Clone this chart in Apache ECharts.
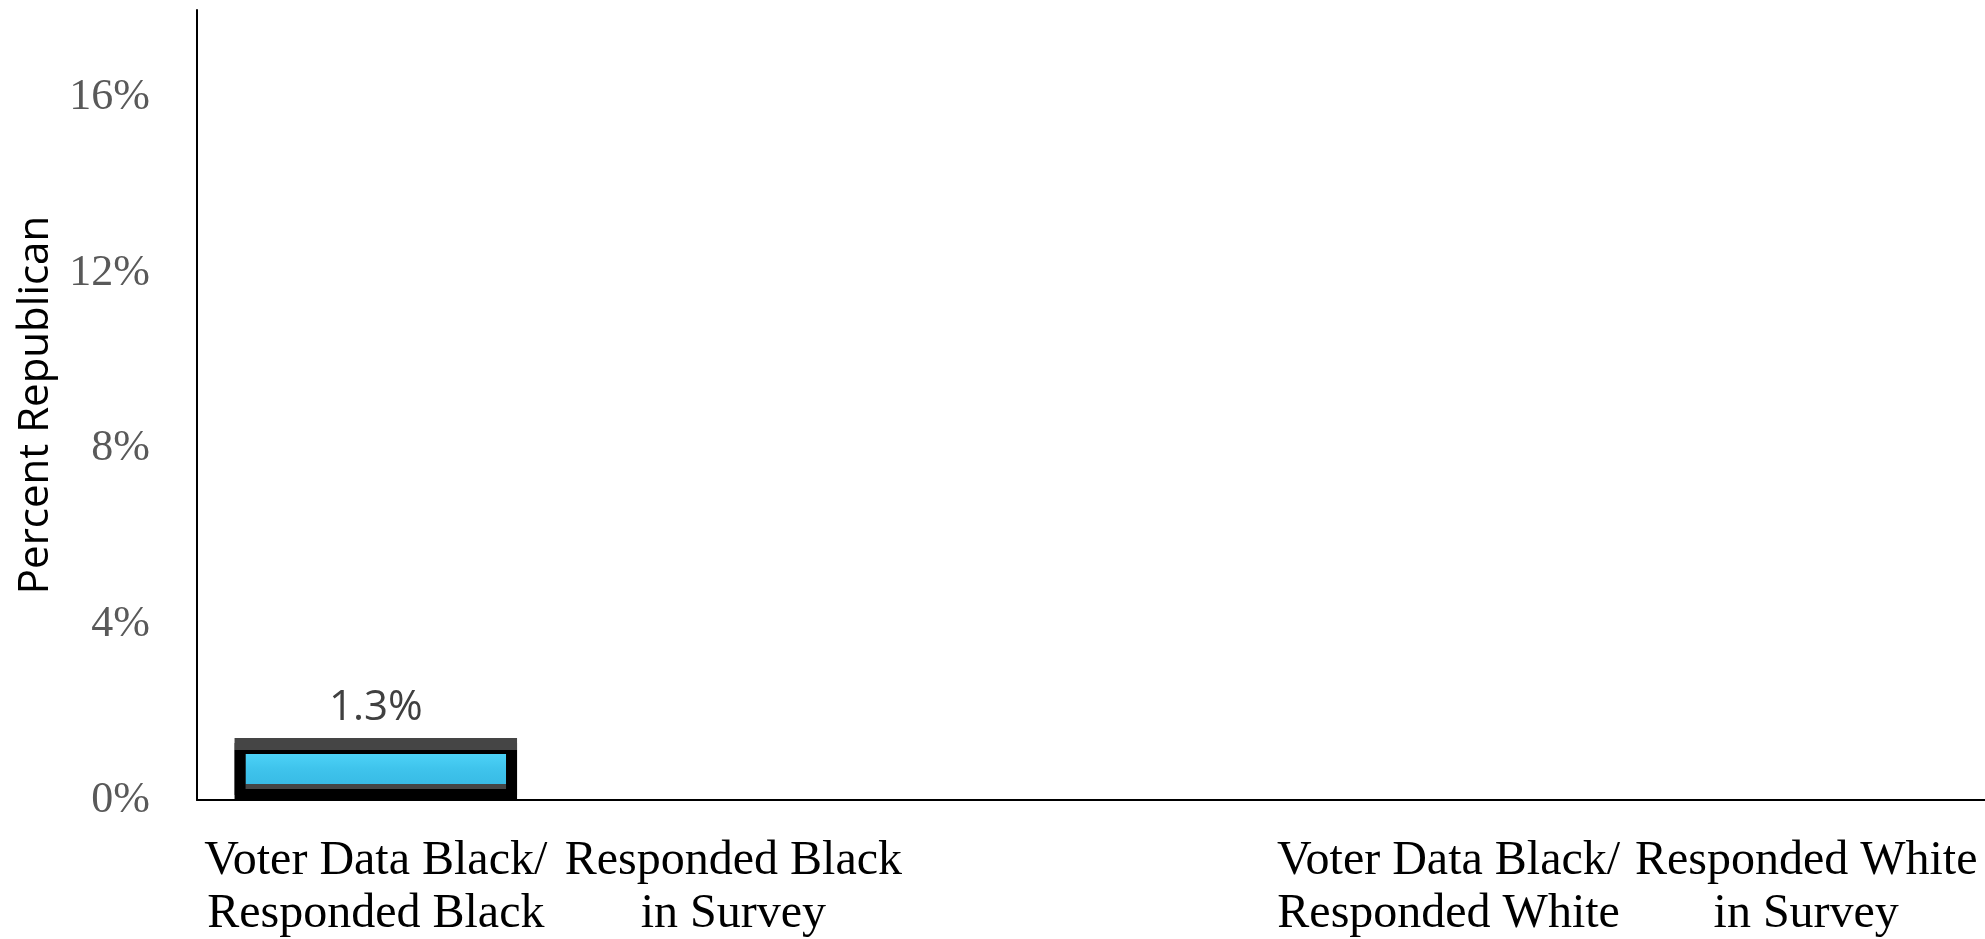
<!DOCTYPE html>
<html>
<head>
<meta charset="utf-8">
<script src="https://cdn.jsdelivr.net/npm/echarts@6/dist/echarts.min.js"></script>
<style>
  html, body { margin: 0; padding: 0; background: #fff; }
  #chart { width: 1985px; height: 939px; }
</style>
</head>
<body>
<div id="chart"></div>
<script>
const categories = [
  'Voter Data Black/\nResponded Black',
  'Responded Black\nin Survey',
  '',
  'Voter Data Black/\nResponded White',
  'Responded White\nin Survey'
];
const values = [1.3, 0, null, 0, 0];
const yTicks = [0, 4, 8, 12, 16];

const chart = echarts.init(document.getElementById('chart'));
const barStyle = {
  color: {
    type: 'linear', x: 0, y: 0, x2: 0, y2: 1,
    colorStops: [
      { offset: 0, color: '#56dcff' },
      { offset: 0.45, color: '#3fc4ec' },
      { offset: 1, color: '#32b2df' }
    ]
  },
  borderColor: {
    type: 'linear', x: 0, y: 0, x2: 0, y2: 1,
    colorStops: [
      { offset: 0, color: '#454545' },
      { offset: 0.12, color: '#454545' },
      { offset: 0.13, color: '#000' },
      { offset: 1, color: '#000' }
    ]
  },
  borderWidth: 11,
  shadowColor: '#454545',
  shadowBlur: 0,
  shadowOffsetY: -5
};

chart.setOption({
  animation: false,
  grid: {
    left: 197, right: 0, top: 10, bottom: 139,
    containLabel: false,
    outerBoundsMode: 'none'
  },
  xAxis: {
    type: 'category',
    data: categories,
    axisLine: { lineStyle: { color: '#000', width: 2 } },
    axisTick: { show: false },
    axisLabel: {
      interval: 0,
      margin: 35,
      color: '#000',
      fontFamily: 'Liberation Serif',
      fontSize: 48,
      lineHeight: 53,
      align: 'center'
    }
  },
  yAxis: {
    type: 'value',
    min: 0,
    max: 18,
    interval: 4,
    name: 'Percent Republican',
    nameLocation: 'middle',
    nameGap: 140,
    nameTextStyle: { fontFamily: 'Open Sans', fontSize: 42, color: '#000' },
    axisLine: { show: true, lineStyle: { color: '#000', width: 2 } },
    axisTick: { show: false },
    splitLine: { show: false },
    axisLabel: {
      showMaxLabel: false,
      margin: 47,
      color: '#595959',
      fontFamily: 'Liberation Serif',
      fontSize: 44,
      formatter: v => (yTicks.includes(v) ? v + '%' : '')
    }
  },
  series: [{
    type: 'bar',
    barCategoryGap: '21%',
    data: values.map(v => ({
      value: v,
      itemStyle: v > 0 ? barStyle : { borderWidth: 0, color: '#000' }
    })),
    label: {
      show: true,
      position: 'top',
      distance: 14,
      fontFamily: 'Open Sans',
      fontSize: 42,
      color: '#404040',
      formatter: p => (p.value > 0 ? p.value + '%' : '')
    }
  }]
});
</script>
</body>
</html>
